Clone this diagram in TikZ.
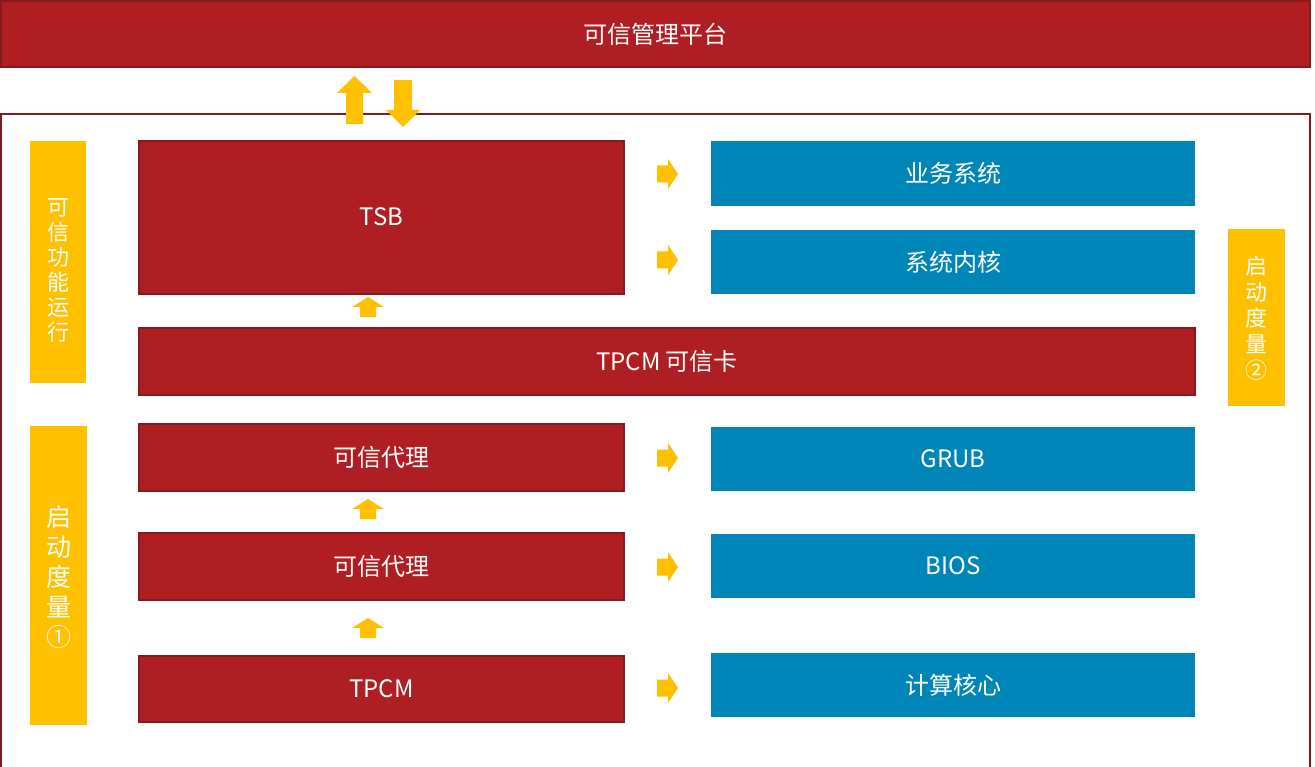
\documentclass[tikz,border=0pt]{standalone}
\usepackage{fontspec}
\setmainfont{Noto Sans CJK SC}
\definecolor{cred}{HTML}{AF1E23}
\definecolor{credb}{HTML}{841A1F}
\definecolor{cblue}{HTML}{0085B9}
\definecolor{cyel}{HTML}{FFC000}
\definecolor{cframe}{HTML}{7A1E24}
\tikzset{
  redbox/.style={rectangle, fill=cred, draw=credb, line width=1.5pt, text=white, font=\fontsize{24}{28}\selectfont, inner sep=0pt},
  bluebox/.style={rectangle, fill=cblue, text=white, font=\fontsize{24}{28}\selectfont, inner sep=0pt},
  yelbox/.style={rectangle, fill=cyel, text=white, inner sep=0pt, align=center},
  blockarr/.style={fill=cyel}
}
\newcommand\rarrow[2]{\fill[blockarr] (#1,#2-8.5) -- (#1+11,#2-8.5) -- (#1+11,#2-15) -- (#1+21,#2) -- (#1+11,#2+15) -- (#1+11,#2+8.5) -- (#1,#2+8.5) -- cycle;}
\newcommand\uarrow[2]{\fill[blockarr] (#1,#2) -- (#1+16,#2+10) -- (#1+8,#2+10) -- (#1+8,#2+20) -- (#1-8,#2+20) -- (#1-8,#2+10) -- (#1-16,#2+10) -- cycle;}
\begin{document}
\begin{tikzpicture}[x=1pt,y=-1pt]
\useasboundingbox (0,0) rectangle (1315,767);
% top bar
\node[redbox, minimum width=1309pt, minimum height=66pt] (top) at (655.5,34) {可信管理平台};
% outer frame
\draw[cframe, line width=2pt] (1,780) -- (1,114) -- (1310,114) -- (1310,780);
% big arrows
\fill[blockarr] (354.5,76) -- (372,93) -- (363,93) -- (363,124) -- (346,124) -- (346,93) -- (337,93) -- cycle;
\fill[blockarr] (394,80) -- (412,80) -- (412,110) -- (420,110) -- (403,127) -- (386,110) -- (394,110) -- cycle;
% side boxes
\node[yelbox, minimum width=56pt, minimum height=242pt] (run) at (58,262) {};
\node[text=white, align=center, font=\fontsize{22}{25}\selectfont, inner sep=0pt] at (58,270) {可\\信\\功\\能\\运\\行};
\node[yelbox, minimum width=57pt, minimum height=299pt] (m1) at (58.5,575.5) {};
\node[text=white, align=center, font=\fontsize{25}{30}\selectfont, inner sep=0pt] at (58.5,577) {启\\动\\度\\量\\①};
\node[yelbox, minimum width=57pt, minimum height=177pt] (m2) at (1256.5,317.5) {};
\node[text=white, align=center, font=\fontsize{22}{26}\selectfont, inner sep=0pt] at (1256.5,318) {启\\动\\度\\量\\②};
% red boxes
\node[redbox, minimum width=485pt, minimum height=153pt] (tsb) at (381.5,217.5) {};
\node[text=white, font=\fontsize{24}{28}\selectfont] at (381.5,217) {TSB};
\node[redbox, minimum width=1056pt, minimum height=67pt] (tpcmcard) at (667,361.5) {TPCM 可信卡};
\node[redbox, minimum width=485pt, minimum height=67pt] (agent1) at (381.5,457.5) {可信代理};
\node[redbox, minimum width=485pt, minimum height=67pt] (agent2) at (381.5,566.5) {可信代理};
\node[redbox, minimum width=485pt, minimum height=66pt] (tpcm) at (381.5,689) {TPCM};
% blue boxes
\node[bluebox, minimum width=484pt, minimum height=65pt] (biz) at (953,173.5) {业务系统};
\node[bluebox, minimum width=484pt, minimum height=64pt] (kern) at (953,262) {系统内核};
\node[bluebox, minimum width=484pt, minimum height=64pt] (grub) at (953,459) {GRUB};
\node[bluebox, minimum width=484pt, minimum height=64pt] (bios) at (953,566) {BIOS};
\node[bluebox, minimum width=484pt, minimum height=64pt] (core) at (953,685) {计算核心};
% small arrows
\rarrow{657}{174}
\rarrow{657}{260}
\rarrow{657}{458}
\rarrow{657}{567}
\rarrow{657}{688}
\uarrow{368}{297}
\uarrow{368}{499}
\uarrow{368}{618}
\end{tikzpicture}
\end{document}
